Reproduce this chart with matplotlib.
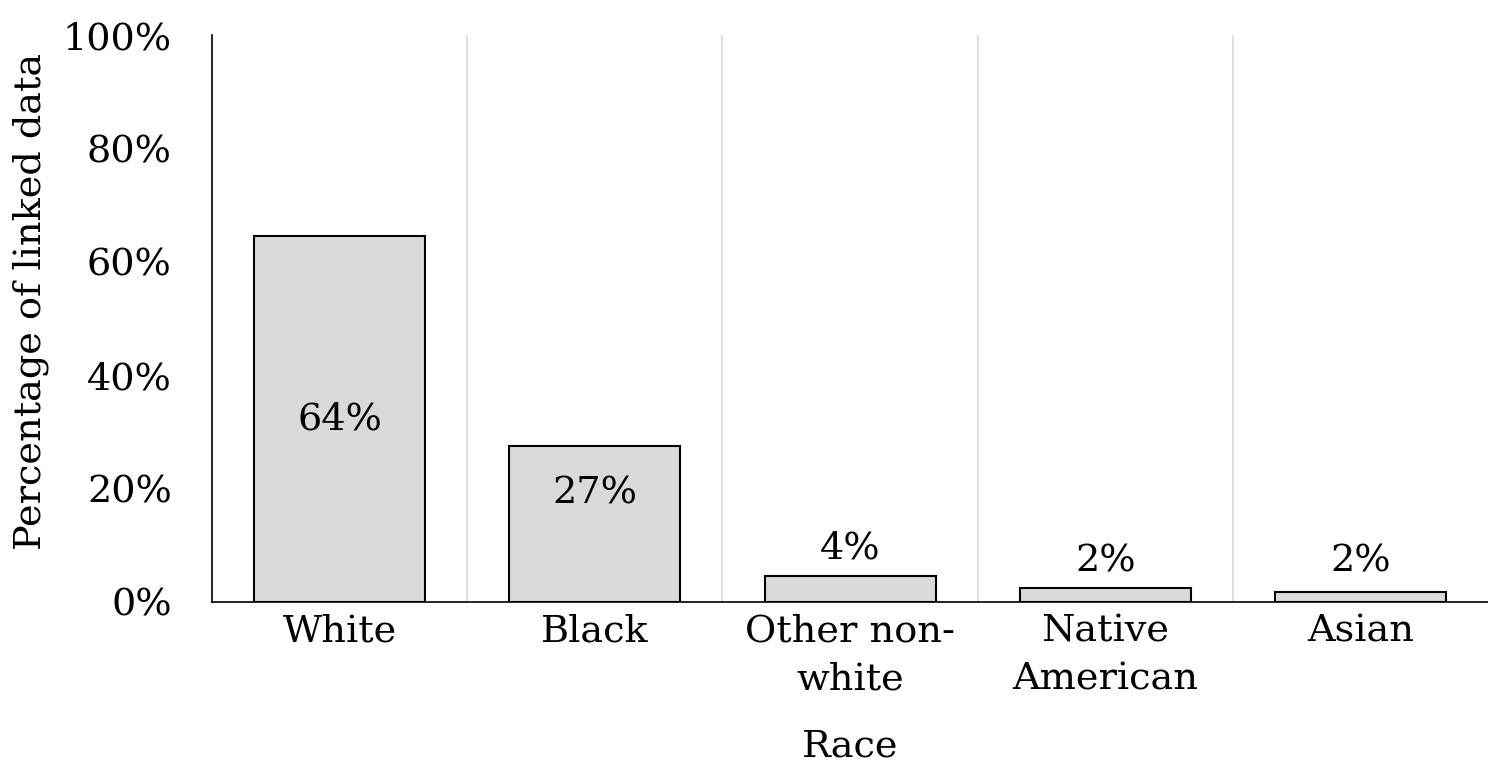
import numpy as np
from matplotlib import pyplot as plt

races = ["White", "Black", "Other non-\nwhite", "Native\nAmerican", "Asian"]
shares = [64.5, 27.5, 4.5, 2.4, 1.8]
share_labels = ["64%", "27%", "4%", "2%", "2%"]
label_y = [32.1, 19.2, 9.5, 7.1, 7.1]

plt.rcParams['font.family'] = ['DejaVu Serif']
fs = 27.5

fig = plt.figure(figsize=(14.88, 7.82), dpi=100)
ax = fig.add_axes([0.1425, 0.2302, 0.8575, 0.725])

x = np.arange(len(races))
ax.bar(x, shares, width=0.67, color='#d9d9d9', edgecolor='black', linewidth=1.5, zorder=3)

for xi, lab, ly in zip(x, share_labels, label_y):
    ax.text(xi, ly, lab, ha='center', va='center', fontsize=fs, zorder=4)

# light separators between categories
for b in np.arange(0.5, len(races) - 0.5, 1):
    ax.axvline(b, color='#d9d9d9', linewidth=1.2, zorder=1)

ax.set_xlim(-0.5, len(races) - 0.5)
ax.set_ylim(0, 100)
ax.set_yticks(np.arange(0, 101, 20))
ax.set_yticklabels([str(v) + "%" for v in range(0, 101, 20)])
ax.set_xticks(x)
ax.set_xticklabels(races, linespacing=1.45)
ax.tick_params(axis='y', length=0, labelsize=fs, pad=29)
ax.tick_params(axis='x', length=0, labelsize=fs, pad=8)

ax.spines['top'].set_visible(False)
ax.spines['right'].set_visible(False)
ax.spines['left'].set_linewidth(1.2)
ax.spines['bottom'].set_linewidth(1.2)

ax.set_xlabel("Race", fontsize=fs, labelpad=22)
ax.set_ylabel("Percentage of linked data", fontsize=fs)
ax.yaxis.set_label_coords(-0.128, 0.53)

fig.savefig("out.png", dpi=100)
